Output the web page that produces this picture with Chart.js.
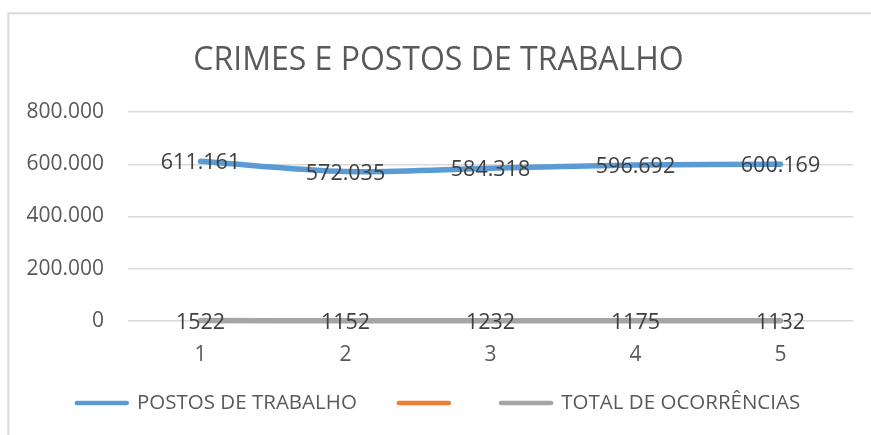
<!DOCTYPE html>
<html>
<head>
<meta charset="utf-8">
<script src="https://cdn.jsdelivr.net/npm/chart.js@4"></script>
<style>
  body { margin: 0; background: #fff; }
  #grafico { display: block; }
</style>
</head>
<body>
<canvas id="grafico" width="871" height="435"></canvas>
<script>
// data
const anos = ['1', '2', '3', '4', '5'];
const postosTrabalho = [611161, 572035, 584318, 596692, 600169];
const semNome = [];
const totalOcorrencias = [1522, 1152, 1232, 1175, 1132];
const ticksY = [0, 200000, 400000, 600000, 800000];

const fonte = '"Open Sans", sans-serif';

// 600169 -> 600.169
function milhar(v) {
  return String(v).replace(/\B(?=(\d{3})+(?!\d))/g, '.');
}

// light grey frame around the chart
const moldura = {
  id: 'moldura',
  beforeDraw(chart) {
    const ctx = chart.ctx;
    ctx.save();
    ctx.fillStyle = '#fff';
    ctx.fillRect(0, 0, chart.width, chart.height);
    ctx.strokeStyle = '#d9d9d9';
    ctx.lineWidth = 2;
    ctx.strokeRect(8.3, 13.3, 1000, 1000);
    ctx.restore();
  }
};

// value labels centred on the points
const rotulos = {
  id: 'rotulos',
  afterDatasetsDraw(chart) {
    const ctx = chart.ctx;
    ctx.save();
    ctx.font = '21.5px ' + fonte;
    ctx.fillStyle = '#404040';
    ctx.textAlign = 'center';
    ctx.textBaseline = 'middle';
    chart.data.datasets.forEach((ds, i) => {
      const meta = chart.getDatasetMeta(i);
      meta.data.forEach((pt, j) => {
        const v = ds.data[j];
        if (v == null) return;
        const txt = i === 0 ? milhar(v) : String(v);
        ctx.fillText(txt, pt.x, pt.y + 2);
      });
    });
    ctx.restore();
  }
};

const config = {
  type: 'line',
  data: {
    labels: anos,
    datasets: [
      {
        label: 'POSTOS DE TRABALHO',
        data: postosTrabalho,
        borderColor: '#5b9bd5',
        backgroundColor: '#5b9bd5',
        borderWidth: 5.5,
        borderCapStyle: 'round',
        borderJoinStyle: 'round',
        tension: 0.3,
        pointRadius: 0,
        clip: false
      },
      {
        label: '',
        data: semNome,
        borderColor: '#ed7d31',
        backgroundColor: '#ed7d31',
        borderWidth: 5.5,
        borderCapStyle: 'round',
        pointRadius: 0,
        clip: false
      },
      {
        label: 'TOTAL DE OCORRÊNCIAS',
        data: totalOcorrencias,
        borderColor: '#a5a5a5',
        backgroundColor: '#a5a5a5',
        borderWidth: 5.5,
        borderCapStyle: 'round',
        borderJoinStyle: 'round',
        tension: 0.3,
        pointRadius: 0,
        clip: false
      }
    ]
  },
  options: {
    responsive: false,
    animation: false,
    layout: {
      padding: { left: 24, right: 18, top: 0, bottom: 11.75 }
    },
    scales: {
      x: {
        offset: true,
        grid: { display: false, drawTicks: false },
        border: { display: false },
        ticks: {
          color: '#595959',
          font: { family: fonte, size: 21 },
          mirror: true,   // keeps the labels from being clipped to the short axis box
          padding: -47,
          maxRotation: 0
        },
        afterFit(scale) { scale.height = 29.75; }
      },
      y: {
        min: 0,
        max: 800000,
        afterBuildTicks(scale) {
          scale.ticks = ticksY.map(v => ({ value: v }));
        },
        grid: { color: '#d9d9d9', lineWidth: 1.5, drawTicks: false },
        border: { display: false },
        ticks: {
          color: '#595959',
          font: { family: fonte, size: 21 },
          padding: 24,
          callback: v => milhar(v)
        },
        afterFit(scale) { scale.width = 104; }
      }
    },
    plugins: {
      title: {
        display: true,
        text: 'CRIMES E POSTOS DE TRABALHO',
        color: '#595959',
        font: { family: fonte, size: 32, weight: 'normal' },
        padding: { top: 42, bottom: 31.6 }
      },
      legend: {
        position: 'bottom',
        labels: {
          color: '#595959',
          font: { family: fonte, size: 20.5 },
          usePointStyle: true,
          pointStyle: 'line',
          pointStyleWidth: 50,
          padding: 42,
          generateLabels(chart) {
            const itens = Chart.defaults.plugins.legend.labels.generateLabels(chart);
            itens.forEach(it => {
              it.pointStyle = 'line';
              it.lineWidth = 4.5;
              it.lineCap = 'round';
            });
            return itens;
          }
        }
      },
      tooltip: { enabled: false }
    }
  },
  plugins: [moldura, rotulos]
};

const grafico = new Chart(document.getElementById('grafico'), config);
</script>
</body>
</html>
